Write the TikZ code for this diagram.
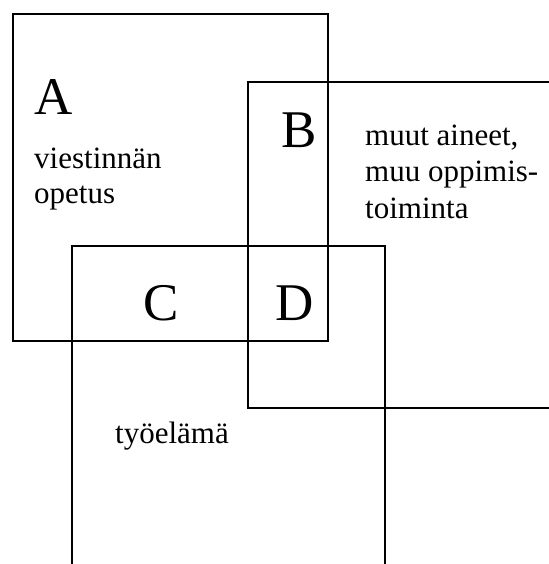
\documentclass[tikz,border=0pt]{standalone}
\usepackage{fontspec}
\setmainfont{Liberation Serif}
\begin{document}
\begin{tikzpicture}[x=1pt,y=-1pt,
  frame/.style={line width=2.2pt, line cap=rect, line join=miter},
  big/.style={anchor=base west, inner sep=0pt, font=\fontsize{53}{60}\selectfont},
  txt/.style={anchor=base west, inner sep=0pt, font=\fontsize{31}{35}\selectfont}]
\useasboundingbox (0,0) rectangle (548,564);
% box A
\draw[frame] (13,14) rectangle (328,341);
% box B (open to the right)
\draw[frame] (560,82) -- (248,82) -- (248,408) -- (560,408);
% box C (open at the bottom)
\draw[frame] (72,580) -- (72,246) -- (385,246) -- (385,580);
% labels
\node[big] (A) at (34,115) {A};
\node[big] (B) at (281,148) {B};
\node[big] (C) at (143,320) {C};
\node[big] (D) at (275,320) {D};
\node[txt] (a1) at (34,168) {viestinnän};
\node[txt] (a2) at (34,203) {opetus};
\node[txt] (b1) at (365,146) {muut aineet,};
\node[txt] (b2) at (365,182) {muu oppimis-};
\node[txt] (b3) at (365,218) {toiminta};
\node[txt] (c1) at (115,443) {työelämä};
\end{tikzpicture}
\end{document}
